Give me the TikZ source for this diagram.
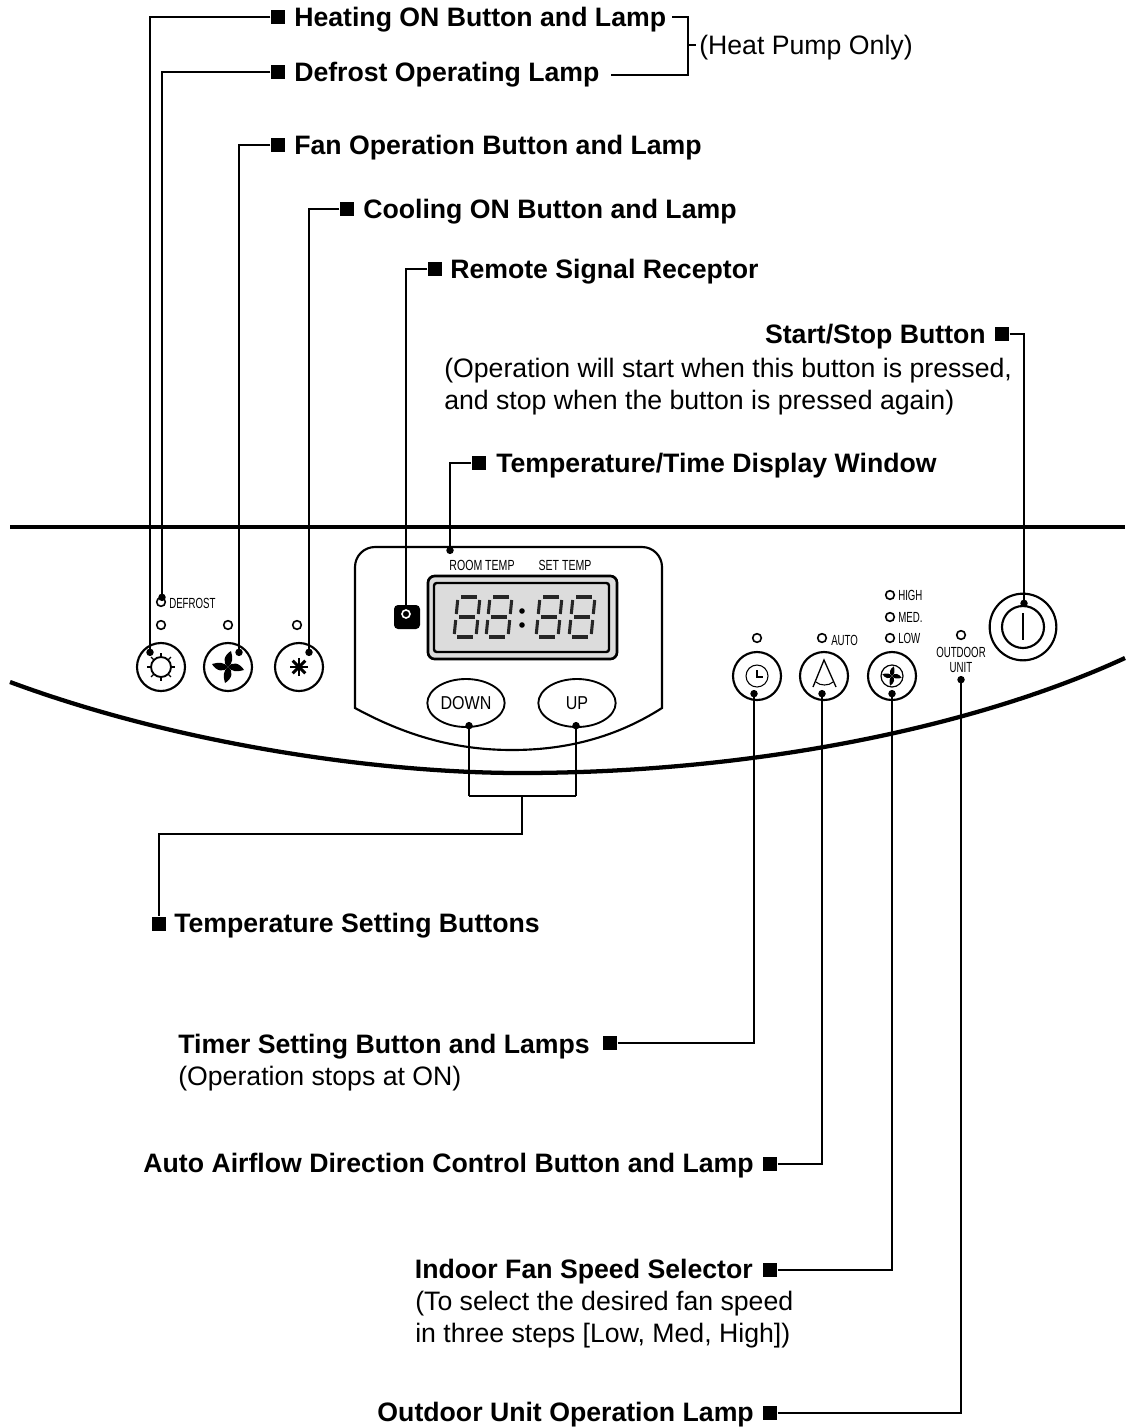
\documentclass[tikz,border=0pt]{standalone}
\usepackage{fontspec}
\setmainfont{Liberation Sans}
\usetikzlibrary{arrows.meta,calc,positioning,shapes.geometric}
\definecolor{lcd}{HTML}{DCDCDC}
\newcommand{\cond}[2][0.66]{\scalebox{#1}[1]{#2}}
\newcommand{\fanblades}[2]{\foreach \a in {0,90,180,270}{\fill[shift={(#1)},rotate=\a,scale=#2] (0,0) .. controls (-6,-4) and (-4,-12) .. (3,-16) .. controls (5,-9) and (5,-4) .. (0,0);}}
\begin{document}
\begin{tikzpicture}[
x=0.75pt,y=-0.75pt,
lab/.style={font=\bfseries\fontsize{20}{24}\selectfont,inner sep=0pt,yshift=-1pt},
note/.style={font=\fontsize{20}{24}\selectfont,inner sep=0pt,anchor=west,align=left,yshift=-1pt},
sq/.style={fill=black,inner sep=0pt,minimum size=11pt},
lead/.style={line width=1.4pt,-{Circle[length=5.5pt,width=5.5pt]}},
plain/.style={line width=1.4pt},
bracket/.style={line width=1.7pt},
band/.style={line width=3.2pt},
btn/.style={circle,draw,line width=1.6pt,minimum size=36pt,inner sep=0pt},
lamp/.style={circle,draw,line width=1.2pt,minimum size=6.5pt,inner sep=0pt},
tiny/.style={font=\fontsize{11}{12}\selectfont,inner sep=0pt},
oval/.style={ellipse,draw,line width=1.4pt,minimum width=58pt,minimum height=36pt,inner sep=0pt,font=\fontsize{14}{14}\selectfont},
seg/.style={line width=2.3pt,black!85}
]
\useasboundingbox (0,0) rectangle (1125,1427);
\draw[band] (10,527) -- (1125,527);
\draw[band] (10,682) .. controls (180,745) and (380,773) .. (520,773) .. controls (760,773) and (980,725) .. (1125,658);
\draw[line width=1.6pt,fill=white] (355,708) -- (355,567) arc (180:270:20) -- (642,547) arc (270:360:20) -- (662,708) .. controls (615,738) and (565,750) .. (512,750) .. controls (460,750) and (410,738) .. (355,708) -- cycle;
\draw[line width=2pt,fill=lcd,rounded corners=5pt] (428,576) rectangle (617,659);
\draw[line width=1.8pt,fill=lcd,rounded corners=2pt] (434,583) rectangle (609,652);
\foreach \dx in {454,486,536,569}{
\begin{scope}[shift={(\dx,637)},xslant=0.1]
\draw[seg] (3,0) -- (19,0) (3,-20) -- (19,-20) (3,-40) -- (19,-40);
\draw[seg] (0,-3) -- (0,-17) (0,-23) -- (0,-37) (22,-3) -- (22,-17) (22,-23) -- (22,-37);
\end{scope}}
\fill (522,611) circle (2.8) (522,625) circle (2.8);
\node[tiny] (roomtxt) at (482,565) {\cond[0.72]{ROOM TEMP}};
\node[tiny] (settxt) at (565,565) {\cond[0.72]{SET TEMP}};
\node[oval] (down) at (466,703) {\cond[0.86]{DOWN}};
\node[oval] (up) at (577,703) {\cond[0.86]{UP}};
\fill[rounded corners=3pt] (394,605) rectangle (420,629);
\node[lamp,draw=white,minimum size=6pt] (recv) at (406,614) {};
\node[btn] (sunbtn) at (161,667) {};
\node[btn] (fanbtn) at (228,667) {};
\node[btn] (coolbtn) at (299,667) {};
\node[btn] (timebtn) at (757,676) {};
\node[btn] (autobtn) at (824,676) {};
\node[btn] (speedbtn) at (892,676) {};
\node[lamp] (sunlamp) at (161,625) {};
\node[lamp] (fanlamp) at (228,625) {};
\node[lamp] (coollamp) at (297,625) {};
\node[lamp] (deflamp) at (161,602) {};
\node[lamp] (timelamp) at (757,638) {};
\node[lamp] (autolamp) at (822,638) {};
\node[lamp] (highlamp) at (890,595) {};
\node[lamp] (medlamp) at (890,617) {};
\node[lamp] (lowlamp) at (890,638) {};
\node[lamp] (outlamp) at (961,635) {};
\node[tiny,anchor=west] (deftxt) at (169,603) {\cond{DEFROST}};
\node[tiny,anchor=west] (autotxt) at (831,640) {\cond{AUTO}};
\node[tiny,anchor=west] (hightxt) at (898,595) {\cond{HIGH}};
\node[tiny,anchor=west] (medtxt) at (898,617) {\cond{MED.}};
\node[tiny,anchor=west] (lowtxt) at (898,638) {\cond{LOW}};
\node[tiny,align=center] (outtxt) at (961,660) {\cond{OUTDOOR}\\[-1pt]\cond{UNIT}};
\node[circle,draw,line width=1.6pt,minimum size=50pt,inner sep=0pt] (startout) at (1023,627) {};
\node[circle,draw,line width=1.6pt,minimum size=31.5pt,inner sep=0pt] (startin) at (1023,627) {};
\draw[plain] (1023,613) -- (1023,640);
\draw[plain] (161,667) circle (10);
\foreach \a in {0,45,...,315}{\draw[line width=1pt] ($(161,667)+(\a:10)$) -- ($(161,667)+(\a:14)$);}
\fanblades{228,667}{1}
\foreach \a in {0,45,...,135}{\draw[line width=2.2pt] ($(299,667)+(\a:9)$) -- ($(299,667)+(\a+180:9)$);}
\draw[line width=0.8pt] (757,676) circle (11);
\draw[line width=1.4pt] (757,670) -- (757,677) -- (763,677);
\draw[line width=1pt] (813,687) -- (824,660) -- (836,687);
\draw[line width=0.8pt] (816,682) .. controls (820,686) and (829,686) .. (833,682);
\draw[line width=0.9pt] (892,676) circle (11);
\fanblades{892,676}{0.6}
\node[sq] (heatsq) at (278,17) {};
\node[lab,anchor=west] (heat) at (294,18) {Heating ON Button and Lamp};
\node[sq] (defsq) at (278,72) {};
\node[lab,anchor=west] (defr) at (294,73) {Defrost Operating Lamp};
\node[note] (pump) at (699,46) {(Heat Pump Only)};
\node[sq] (fansq) at (278,145) {};
\node[lab,anchor=west] (fan) at (294,146) {Fan Operation Button and Lamp};
\node[sq] (coolsq) at (347,209) {};
\node[lab,anchor=west] (cool) at (363,210) {Cooling ON Button and Lamp};
\node[sq] (recvsq) at (435,269) {};
\node[lab,anchor=west] (remote) at (450,270) {Remote Signal Receptor};
\node[sq] (startsq) at (1002,334) {};
\node[lab,anchor=east] (start) at (986,335) {Start/Stop Button};
\node[note] (startnote) at (444,385) {(Operation will start when this button is pressed,\\and stop when the button is pressed again)};
\node[sq] (dispsq) at (479,463) {};
\node[lab,anchor=west] (disp) at (496,464) {Temperature/Time Display Window};
\node[sq] (setsq) at (159,924) {};
\node[lab,anchor=west] (set) at (174,924) {Temperature Setting Buttons};
\node[sq] (timesq) at (610,1043) {};
\node[lab,anchor=east] (timer) at (590,1045) {Timer Setting Button and Lamps};
\node[note] (timenote) at (178,1077) {(Operation stops at ON)};
\node[sq] (autosq) at (770,1164) {};
\node[lab,anchor=east] (auto) at (754,1164) {Auto Airflow Direction Control Button and Lamp};
\node[sq] (speedsq) at (770,1270) {};
\node[lab,anchor=east] (speed) at (753,1270) {Indoor Fan Speed Selector};
\node[note] (speednote) at (415,1318) {(To select the desired fan speed\\in three steps [Low, Med, High])};
\node[sq] (outsq) at (770,1413) {};
\node[lab,anchor=east] (outd) at (754,1413) {Outdoor Unit Operation Lamp};
\coordinate (heatdot) at (150,656);
\coordinate (defdot) at (162,601);
\coordinate (fandot) at (239,656);
\coordinate (cooldot) at (309,656);
\coordinate (startdot) at (1024,607);
\coordinate (dispdot) at (450,554);
\coordinate (downdot) at (469,722);
\coordinate (updot) at (576,722);
\coordinate (timedot) at (754,690);
\coordinate (autodot) at (822,690);
\coordinate (speeddot) at (892,690);
\coordinate (outdot) at (961,676);
\coordinate (joinl) at (469,796);
\coordinate (joinr) at (576,796);
\coordinate (joinm) at (522,796);
\coordinate (joinb) at (522,834);
\coordinate (pumpt) at (688,17);
\coordinate (pumpb) at (611,75);
\draw[lead] (heatsq) -| (heatdot);
\draw[lead] (defsq) -| (defdot);
\draw[lead] (fansq) -| (fandot);
\draw[lead] (coolsq) -| (cooldot);
\draw[plain] (recvsq) -| (recv);
\draw[lead] (startsq) -| (startdot);
\draw[lead] (dispsq) -| (dispdot);
\draw[lead] (timesq) -| (timedot);
\draw[lead] (autosq) -| (autodot);
\draw[lead] (speedsq) -| (speeddot);
\draw[lead] (outsq) -| (outdot);
\draw[lead] (joinl) -- (downdot);
\draw[lead] (joinr) -- (updot);
\draw[plain] (joinl) -- (joinr);
\draw[plain] (joinm) -- (joinb) -| (setsq);
\draw[bracket] (672,17) -- (pumpt) |- (pumpb);
\draw[plain] (688,45) -- (696,45);
\end{tikzpicture}
\end{document}
